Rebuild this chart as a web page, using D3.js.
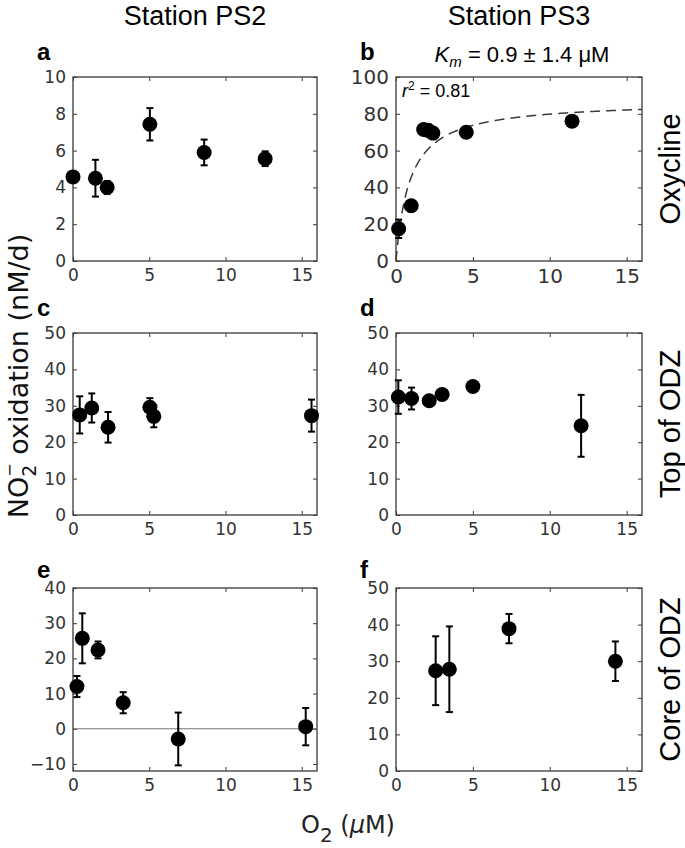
<!DOCTYPE html>
<html><head><meta charset="utf-8">
<script src="https://cdn.jsdelivr.net/npm/d3@7"></script>
<style>body{margin:0;background:#fff}</style>
</head><body><svg id="c" width="685" height="848"></svg>
<script>
// ---------- data ----------
const xTickValues = [0, 5, 10, 15];
const stationTitles = ["Station PS2", "Station PS3"];
const depthLabels = ["Oxycline", "Top of ODZ", "Core of ODZ"];
const panelLetters = ["a", "b", "c", "d", "e", "f"];

const yTicksA = [0, 2, 4, 6, 8, 10];
const o2A   = [0.0, 1.47, 2.24, 5.04, 8.6, 12.6];
const rateA = [4.57, 4.5, 4.0, 7.43, 5.9, 5.56];
const errA  = [0.2, 1.0, 0.35, 0.88, 0.7, 0.4];

const yTicksB = [0, 20, 40, 60, 80, 100];
const o2B   = [0.17, 0.99, 1.8, 2.1, 2.4, 4.57, 11.45];
const rateB = [17.5, 30, 71.5, 71, 69.5, 70, 76];
const errB  = [5, 1, 1, 1, 1, 1, 1];
const fitKm = 0.9, fitVmax = 87;

const yTicksC = [0, 10, 20, 30, 40, 50];
const o2C   = [0.44, 1.23, 2.3, 5.04, 5.3, 15.64];
const rateC = [27.5, 29.4, 24.1, 29.6, 27.1, 27.3];
const errC  = [5.1, 4.0, 4.2, 2.5, 3.0, 4.4];

const yTicksD = [0, 10, 20, 30, 40, 50];
const o2D   = [0.15, 1.01, 2.16, 3.0, 5.0, 12.04];
const rateD = [32.4, 32.0, 31.4, 33.1, 35.3, 24.5];
const errD  = [4.6, 3.0, 0.5, 0.5, 0.5, 8.5];

const yTicksE = [-10, 0, 10, 20, 30, 40];
const o2E   = [0.26, 0.61, 1.64, 3.29, 6.9, 15.26];
const rateE = [12, 25.7, 22.4, 7.4, -2.9, 0.6];
const errE  = [3, 7.1, 2.4, 3, 7.5, 5.3];

const yTicksF = [0, 10, 20, 30, 40, 50];
const o2F   = [2.58, 3.47, 7.35, 14.27];
const rateF = [27.4, 27.8, 38.9, 30];
const errF  = [9.4, 11.7, 4, 5.4];

// ---------- layout ----------
const svg = d3.select("#c");
const colL = [73, 317], colR = [396, 642];
const rows = [[77, 261], [333, 515], [588, 771]];
const tickFont = "'DejaVu Sans', sans-serif";
const sansFont = "'Liberation Sans', Arial, sans-serif";

const panels = [
  {L: panelLetters[0], xr: colL, yr: rows[0], yd: [0, 10],  yt: yTicksA, o2: o2A, r: rateA, e: errA, fs: 17},
  {L: panelLetters[1], xr: colR, yr: rows[0], yd: [0, 100], yt: yTicksB, o2: o2B, r: rateB, e: errB, fs: 20, fit: true},
  {L: panelLetters[2], xr: colL, yr: rows[1], yd: [0, 50],  yt: yTicksC, o2: o2C, r: rateC, e: errC, fs: 17},
  {L: panelLetters[3], xr: colR, yr: rows[1], yd: [0, 50],  yt: yTicksD, o2: o2D, r: rateD, e: errD, fs: 17},
  {L: panelLetters[4], xr: colL, yr: rows[2], yd: [-12, 40], yt: yTicksE, o2: o2E, r: rateE, e: errE, fs: 17, zero: true},
  {L: panelLetters[5], xr: colR, yr: rows[2], yd: [0, 50],  yt: yTicksF, o2: o2F, r: rateF, e: errF, fs: 17},
];

const axisColor = "#3a3a3a";

panels.forEach(p => {
  const x = d3.scaleLinear().domain([0, 16]).range(p.xr);
  const y = d3.scaleLinear().domain(p.yd).range([p.yr[1], p.yr[0]]);
  const g = svg.append("g");

  const styleAxis = (sel, showText) => {
    sel.select(".domain").remove();
    sel.selectAll("line").attr("stroke", axisColor).attr("stroke-width", 1);
    sel.selectAll("text").attr("fill", "#333").attr("font-family", tickFont).attr("font-size", p.fs);
    if (!showText) sel.selectAll("text").remove();
  };
  g.append("g").attr("transform", `translate(0,${p.yr[1]})`)
    .call(d3.axisBottom(x).tickValues(xTickValues).tickSizeInner(-4).tickSizeOuter(0).tickPadding(8))
    .call(s => styleAxis(s, true));
  g.append("g").attr("transform", `translate(0,${p.yr[0]})`)
    .call(d3.axisTop(x).tickValues(xTickValues).tickSizeInner(-4).tickSizeOuter(0))
    .call(s => styleAxis(s, false));
  g.append("g").attr("transform", `translate(${p.xr[0]},0)`)
    .call(d3.axisLeft(y).tickValues(p.yt).tickSizeInner(-4).tickSizeOuter(0).tickPadding(7)
      .tickFormat(d => d < 0 ? "\u2212" + Math.abs(d) : d))
    .call(s => styleAxis(s, true));
  g.append("g").attr("transform", `translate(${p.xr[1]},0)`)
    .call(d3.axisRight(y).tickValues(p.yt).tickSizeInner(-4).tickSizeOuter(0))
    .call(s => styleAxis(s, false));

  g.append("rect").attr("x", p.xr[0]).attr("y", p.yr[0])
    .attr("width", p.xr[1] - p.xr[0]).attr("height", p.yr[1] - p.yr[0])
    .attr("fill", "none").attr("stroke", axisColor).attr("stroke-width", 1.3);

  if (p.zero) {
    g.append("line").attr("x1", p.xr[0]).attr("x2", p.xr[1])
      .attr("y1", y(0)).attr("y2", y(0)).attr("stroke", "#555").attr("stroke-width", 0.8);
  }

  if (p.fit) {
    const xs = d3.range(0, 16.001, 0.02);
    const line = d3.line().x(d => x(d)).y(d => y(fitVmax * d / (fitKm + d)));
    g.append("path").attr("d", line(xs)).attr("fill", "none")
      .attr("stroke", "#3a3a3a").attr("stroke-width", 1.5).attr("stroke-dasharray", "10,6");
  }

  const pts = p.o2.map((v, i) => ({x: v, y: p.r[i], e: p.e[i]}));
  const eb = g.append("g").attr("stroke", "#000").attr("stroke-width", 2);
  pts.forEach(d => {
    const cx = x(d.x), yt = y(d.y + d.e), yb = y(d.y - d.e);
    eb.append("line").attr("x1", cx).attr("x2", cx).attr("y1", yt).attr("y2", yb);
    eb.append("line").attr("x1", cx - 3.5).attr("x2", cx + 3.5).attr("y1", yt).attr("y2", yt);
    eb.append("line").attr("x1", cx - 3.5).attr("x2", cx + 3.5).attr("y1", yb).attr("y2", yb);
  });
  g.selectAll("circle.pt").data(pts).join("circle").attr("class", "pt")
    .attr("cx", d => x(d.x)).attr("cy", d => y(d.y)).attr("r", 7.5).attr("fill", "#000");

  svg.append("text").attr("x", p.xr[0] - 36).attr("y", p.yr[0] - (p.L === "e" || p.L === "f" ? 10 : 17))
    .attr("font-family", sansFont).attr("font-weight", "bold").attr("font-size", 24)
    .attr("fill", "#000").text(p.L);
});

// station titles
[[colL, stationTitles[0]], [colR, stationTitles[1]]].forEach(([c, t]) => {
  svg.append("text").attr("x", (c[0] + c[1]) / 2).attr("y", 25).attr("text-anchor", "middle")
    .attr("font-family", sansFont).attr("font-size", 27).attr("fill", "#000").text(t);
});

// right labels
rows.forEach((r, i) => {
  svg.append("text").attr("transform", `translate(680,${(r[0] + r[1]) / 2}) rotate(-90)`)
    .attr("text-anchor", "middle").attr("font-family", sansFont).attr("font-size", 29)
    .attr("fill", "#000").text(depthLabels[i]);
});

// Km annotation
const km = svg.append("text").attr("x", 522).attr("y", 62).attr("text-anchor", "middle")
  .attr("font-family", sansFont).attr("font-size", 22).attr("fill", "#000");
km.append("tspan").attr("font-style", "italic").text("K");
km.append("tspan").attr("font-style", "italic").attr("font-size", 15).attr("dy", 5).text("m");
km.append("tspan").attr("dy", -5).text(" = 0.9 \u00b1 1.4 \u03bcM");

const r2 = svg.append("text").attr("x", 402).attr("y", 97)
  .attr("font-family", sansFont).attr("font-size", 18).attr("fill", "#000");
r2.append("tspan").attr("font-style", "italic").text("r");
r2.append("tspan").attr("font-size", 12).attr("dy", -7).text("2");
r2.append("tspan").attr("dy", 7).text(" = 0.81");

// y label
const yl = svg.append("text").attr("transform", "translate(28,376) rotate(-90)")
  .attr("text-anchor", "middle").attr("font-family", tickFont).attr("font-size", 27).attr("fill", "#111");
yl.append("tspan").text("NO");
yl.append("tspan").attr("font-size", 19).attr("dy", 8).text("2");
yl.append("tspan").attr("font-size", 16).attr("dx", -12).attr("dy", -21).text("\u2212");
yl.append("tspan").attr("dy", 13).text(" oxidation (nM/d)");

// x label
const xl = svg.append("text").attr("x", 348).attr("y", 833).attr("text-anchor", "middle")
  .attr("font-family", tickFont).attr("font-size", 24).attr("fill", "#222");
xl.append("tspan").text("O");
xl.append("tspan").attr("font-size", 20).attr("dy", 9).text("2");
xl.append("tspan").attr("dy", -9).text(" (");
xl.append("tspan").attr("font-style", "italic").text("\u03bc");
xl.append("tspan").text("M)");
</script></body></html>
